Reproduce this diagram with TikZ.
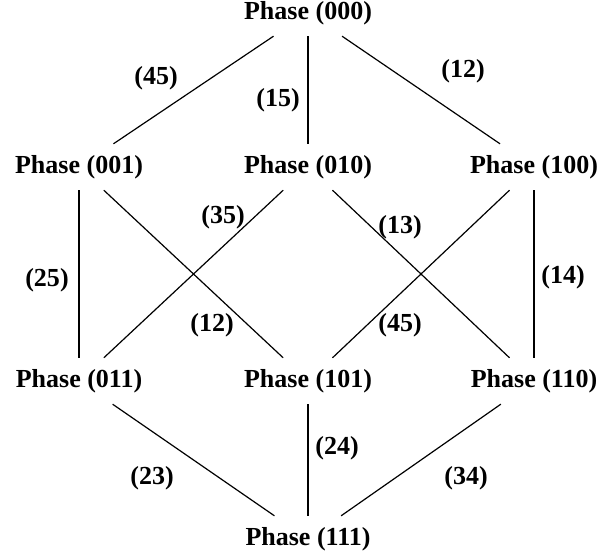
\documentclass[tikz,border=0pt]{standalone}
\usepackage{fontspec}
\setmainfont{Liberation Serif}
\begin{document}
\begin{tikzpicture}[x=1pt,y=-1pt,
  phase/.style={font=\fontsize{26}{30}\selectfont\bfseries, minimum height=46pt, inner xsep=2pt, inner ysep=0pt},
  lab/.style={font=\fontsize{26}{30}\selectfont\bfseries, inner sep=0pt},
  edge/.style={line width=1.2pt}]
\useasboundingbox (0,0) rectangle (604,556);
\node[phase] (p000) at (308,13) {Phase (000)};
\node[phase] (p001) at (79,167) {Phase (001)};
\node[phase] (p010) at (308,167) {Phase (010)};
\node[phase] (p100) at (534,167) {Phase (100)};
\node[phase] (p011) at (79,381) {Phase (011)};
\node[phase] (p101) at (308,381) {Phase (101)};
\node[phase] (p110) at (534,381) {Phase (110)};
\node[phase] (p111) at (308,539) {Phase (111)};

\draw[edge] (p000) -- (p001);
\draw[edge] (p000) -- (p010);
\draw[edge] (p000) -- (p100);
\draw[edge] (p001) -- (p011);
\draw[edge] (p001) -- (p101);
\draw[edge] (p010) -- (p011);
\draw[edge] (p010) -- (p110);
\draw[edge] (p100) -- (p101);
\draw[edge] (p100) -- (p110);
\draw[edge] (p011) -- (p111);
\draw[edge] (p101) -- (p111);
\draw[edge] (p110) -- (p111);

\node[lab] (l1) at (156,78) {(45)};
\node[lab] (l2) at (278,100) {(15)};
\node[lab] (l3) at (463,71) {(12)};
\node[lab] (l4) at (223,217) {(35)};
\node[lab] (l5) at (400,227) {(13)};
\node[lab] (l6) at (47,280) {(25)};
\node[lab] (l7) at (563,277) {(14)};
\node[lab] (l8) at (212,325) {(12)};
\node[lab] (l9) at (400,325) {(45)};
\node[lab] (l10) at (337,448) {(24)};
\node[lab] (l11) at (152,478) {(23)};
\node[lab] (l12) at (466,478) {(34)};
\end{tikzpicture}
\end{document}
